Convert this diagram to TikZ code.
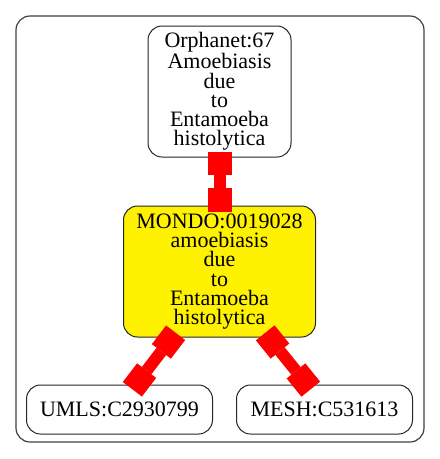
\documentclass[tikz,border=0pt]{standalone}
\usepackage{fontspec}
\setmainfont{Liberation Serif}
\usetikzlibrary{positioning,arrows.meta}

\begin{document}
\begin{tikzpicture}[
            termnode/.style={rectangle, rounded corners=14pt, draw=black!85, line width=1pt, align=center, inner sep=0pt, font=\fontsize{22}{19.2}\selectfont},
            mainnode/.style={termnode, fill=yellow},
            clusterbox/.style={draw=black!75, line width=1.2pt, rounded corners=14pt},
            boxlink/.style={draw=red, line width=12pt, {Square[length=23.5pt,width=24pt,line width=0pt]}-{Square[length=23.5pt,width=24pt,line width=0pt]}, shorten >=-6pt, shorten <=-6pt},
        ]
        \useasboundingbox (0,0) rectangle (440pt,-459pt);
        \draw[clusterbox] (16pt,-16pt) rectangle (424pt,-442pt);

        %Nodes
        \node[termnode, minimum width=143pt, minimum height=131pt] (orphanet) at (219.5pt,-91.5pt) {Orphanet:67\\Amoebiasis\\due\\to\\Entamoeba\\histolytica};
        \node[mainnode, minimum width=192pt, minimum height=131pt] (mondo)    [below=48pt of orphanet] {MONDO:0019028\\amoebiasis\\due\\to\\Entamoeba\\histolytica};
        \node[termnode, minimum width=186pt, minimum height=49pt]  (umls)     [below=47pt of mondo, xshift=-100pt] {UMLS:C2930799};
        \node[termnode, minimum width=176pt, minimum height=49pt]  (mesh)     [below=47pt of mondo, xshift=105pt]  {MESH:C531613};

        %Lines
        \draw[boxlink] (orphanet.south) -- (mondo.north);
        \draw[boxlink] ([xshift=-47.5pt]mondo.south) -- ([xshift=16.5pt]umls.north);
        \draw[boxlink] ([xshift=49.5pt]mondo.south) -- ([xshift=-17.5pt]mesh.north);
    \end{tikzpicture}
\end{document}
